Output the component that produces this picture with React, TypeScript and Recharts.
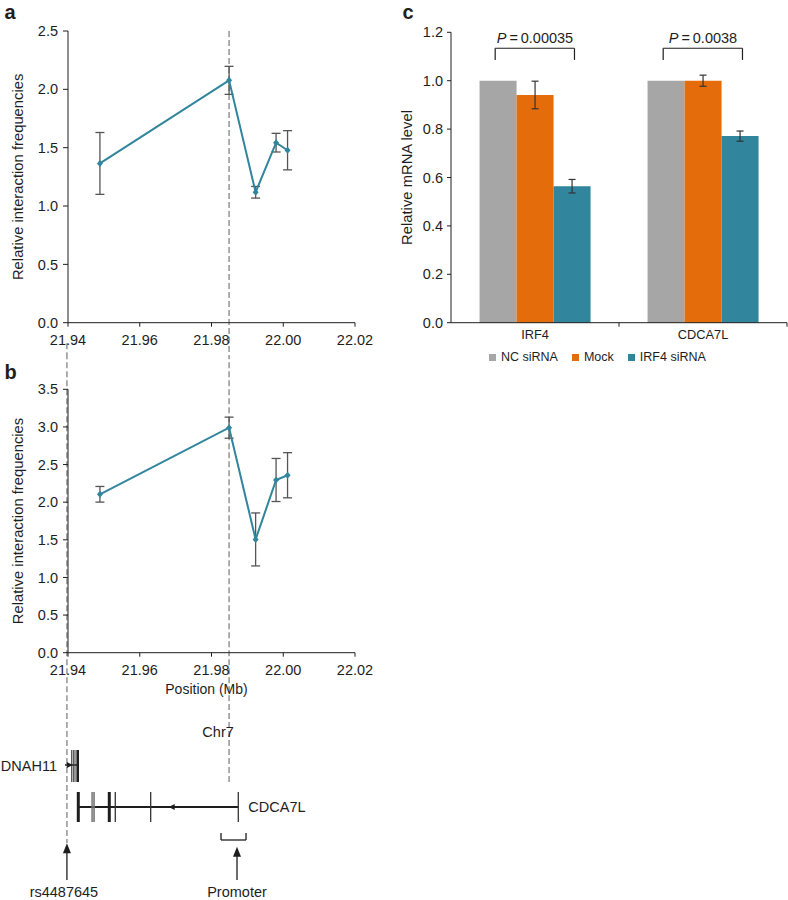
import React from "react";
import {
  LineChart,
  Line,
  XAxis,
  YAxis,
  ErrorBar,
  ReferenceLine,
  ReferenceDot,
  BarChart,
  Bar,
  Legend,
  ScatterChart,
  Scatter,
} from "recharts";

// panels a / b : 3C interaction frequencies
const fragmentMb = [21.9489, 21.9849, 21.9923, 21.998, 22.0012];
const freqA = [1.365, 2.077, 1.118, 1.543, 1.478];
const errA = [0.265, 0.12, 0.05, 0.08, 0.168];
const freqB = [2.105, 2.99, 1.505, 2.295, 2.358];
const errB = [0.104, 0.14, 0.352, 0.286, 0.3];
const positionTicks = [21.94, 21.96, 21.98, 22.0, 22.02];
const ticksA = [0, 0.5, 1, 1.5, 2, 2.5];
const ticksB = [0, 0.5, 1, 1.5, 2, 2.5, 3, 3.5];

const anchorMb = 21.9849;
const snpMb = 21.9397; // rs4487645

// gene models (Mb)
const dnah11Span = [21.93916, 21.9427];
const dnah11Exons = [21.94103, 21.94148, 21.94195];
const dnah11LastExon = [21.9427];
const dnah11ArrowMb = 21.9405;
const cdca7lSpan = [21.94287, 21.98747];
const cdca7lThickExons = [21.94287, 21.95151];
const cdca7lThinExons = [21.95318, 21.96305, 21.98747];
const cdca7lSmallExons = [21.94661, 21.9468, 21.947, 21.94719, 21.94739];
const cdca7lArrowMb = 21.96891;
const promoterSpan = [21.98265, 21.98962];
const promoterMb = 21.98711;

// panel c : qPCR
const genes = ["IRF4", "CDCA7L"];
const seriesNames = ["NC siRNA", "Mock", "IRF4 siRNA"];
const ncSiRNA = [1.0, 1.0];
const mock = [0.941, 1.0];
const mockErr = [0.057, 0.023];
const irf4SiRNA = [0.564, 0.771];
const irf4SiRNAErr = [0.028, 0.021];
const pValues = ["0.00035", "0.0038"];
const mrnaTicks = [0, 0.2, 0.4, 0.6, 0.8, 1.0, 1.2];
const bracketTop = 1.134;
const bracketFoot = 1.086;
const pLabelY = 1.175;

const TEAL = "#31859c";
const GREY = "#a6a6a6";
const ORANGE = "#e46c0a";
const DASH = "#8c8c8c";
const INK = "#1e1e1e";

const Diamond = (props: any) => {
  const { cx, cy } = props;
  if (cx == null || cy == null) return null;
  return (
    <path
      d={`M${cx},${cy - 3.5}L${cx + 3},${cy}L${cx},${cy + 3.5}L${cx - 3},${cy}Z`}
      fill={TEAL}
    />
  );
};

const seg = (x1: number, y1: number, x2: number, y2: number) => [
  { x: x1, y: y1 },
  { x: x2, y: y2 },
];

type PanelProps = {
  values: number[];
  errors: number[];
  yTicks: number[];
  top: number;
  height: number;
  marginTop: number;
  marginBottom: number;
  xAxisHeight: number;
  xLabel?: string;
  anchorDash: [number, number];
  snpDash: [number, number];
};

function InteractionPanel(p: PanelProps) {
  const data = fragmentMb.map((pos, i) => ({
    pos,
    freq: p.values[i],
    err: p.errors[i],
  }));
  const yMax = p.yTicks[p.yTicks.length - 1];
  return (
    <div style={{ position: "absolute", left: 0, top: p.top }}>
      <LineChart
        width={380}
        height={p.height}
        data={data}
        margin={{ top: p.marginTop, right: 25, bottom: p.marginBottom, left: 0 }}
      >
        <XAxis
          type="number"
          dataKey="pos"
          domain={[21.94, 22.02]}
          ticks={positionTicks}
          tickFormatter={(v: number) => v.toFixed(2)}
          height={p.xAxisHeight}
          stroke={INK}
          tick={{ fontSize: 14.5, fill: INK }}
          tickSize={4}
          tickMargin={8}
          label={
            p.xLabel
              ? {
                  value: p.xLabel,
                  position: "insideBottom",
                  offset: 4,
                  dx: -5,
                  fontSize: 14,
                  fill: INK,
                }
              : undefined
          }
        />
        <YAxis
          type="number"
          domain={[0, yMax]}
          ticks={p.yTicks}
          tickFormatter={(v: number) => v.toFixed(1)}
          width={68}
          stroke={INK}
          tick={{ fontSize: 14.5, fill: INK }}
          tickSize={5}
          tickMargin={5}
          label={{
            value: "Relative interaction frequencies",
            angle: -90,
            position: "center",
            dx: -16.5,
            fontSize: 14.8,
            fill: INK,
          }}
        />
        <ReferenceLine
          segment={seg(anchorMb, p.anchorDash[0], anchorMb, p.anchorDash[1])}
          stroke={DASH}
          strokeWidth={1.4}
          strokeDasharray="6 3"
          ifOverflow="visible"
        />
        <ReferenceLine
          segment={seg(snpMb, p.snpDash[0], snpMb, p.snpDash[1])}
          stroke={DASH}
          strokeWidth={1.4}
          strokeDasharray="6 3"
          ifOverflow="visible"
        />
        <Line
          type="linear"
          dataKey="freq"
          stroke={TEAL}
          strokeWidth={2}
          dot={<Diamond />}
          activeDot={false}
          isAnimationActive={false}
        >
          <ErrorBar dataKey="err" width={4.5} stroke="#555" strokeWidth={1.3} direction="y" />
        </Line>
      </LineChart>
    </div>
  );
}

const DNAH11_ROW = 66;
const CDCA7L_ROW = 107;

const exonShape = (half: number, w: number, color: string) => (props: any) => (
  <line
    x1={props.cx}
    x2={props.cx}
    y1={props.cy - half}
    y2={props.cy + half}
    stroke={color}
    strokeWidth={w}
  />
);

const textShape =
  (label: string, anchor: "start" | "middle" | "end", dx: number) => (props: any) => (
    <text
      x={props.cx + dx}
      y={props.cy}
      dy="0.35em"
      textAnchor={anchor}
      fontSize={14.5}
      fill={INK}
    >
      {label}
    </text>
  );

const arrowHead = (dir: 1 | -1) => (props: any) => {
  const { cx, cy } = props;
  return (
    <path
      d={`M${cx - 3 * dir},${cy} L${cx + 3 * dir},${cy - 3} L${cx + 3 * dir},${cy + 3} Z`}
      fill={INK}
    />
  );
};

const upArrow = (len: number) => (props: any) => {
  const { cx, cy } = props;
  return (
    <g>
      <line x1={cx} x2={cx} y1={cy + 8} y2={cy + len} stroke={INK} strokeWidth={1.3} />
      <path d={`M${cx},${cy} L${cx + 4},${cy + 10} L${cx - 4},${cy + 10} Z`} fill={INK} />
    </g>
  );
};

function GeneTrack() {
  const pts = (arr: number[], row: number) => arr.map((pos) => ({ pos, row }));
  return (
    <div style={{ position: "absolute", left: 0, top: 700 }}>
      <ScatterChart width={380} height={200} margin={{ top: 0, right: 25, bottom: 0, left: 68 }}>
        <XAxis type="number" dataKey="pos" domain={[21.94, 22.02]} hide />
        <YAxis type="number" dataKey="row" domain={[0, 200]} reversed hide />
        <ReferenceLine
          segment={seg(anchorMb, -5, anchorMb, 85)}
          stroke={DASH}
          strokeWidth={1.4}
          strokeDasharray="6 3"
          ifOverflow="visible"
        />
        <ReferenceLine
          segment={seg(snpMb, -5, snpMb, 143)}
          stroke={DASH}
          strokeWidth={1.4}
          strokeDasharray="6 3"
          ifOverflow="visible"
        />
        <ReferenceLine
          segment={seg(dnah11Span[0], DNAH11_ROW - 1, dnah11Span[1], DNAH11_ROW - 1)}
          stroke={INK}
          strokeWidth={1.5}
          ifOverflow="visible"
        />
        <ReferenceLine
          segment={seg(cdca7lSpan[0], CDCA7L_ROW, cdca7lSpan[1], CDCA7L_ROW)}
          stroke={INK}
          strokeWidth={1.8}
          ifOverflow="visible"
        />
        <Scatter data={pts(dnah11Exons, DNAH11_ROW)} dataKey="row" shape={exonShape(16, 1, "#333")} isAnimationActive={false} />
        <Scatter data={pts(dnah11LastExon, DNAH11_ROW)} dataKey="row" shape={exonShape(16, 2.6, INK)} isAnimationActive={false} />
        <Scatter data={pts(cdca7lThickExons, CDCA7L_ROW)} dataKey="row" shape={exonShape(15, 3, INK)} isAnimationActive={false} />
        <Scatter data={pts(cdca7lThinExons, CDCA7L_ROW)} dataKey="row" shape={exonShape(15, 1.3, "#333")} isAnimationActive={false} />
        <Scatter data={pts(cdca7lSmallExons, CDCA7L_ROW)} dataKey="row" shape={exonShape(15, 0.8, "#777")} isAnimationActive={false} />
        <ReferenceDot x={dnah11ArrowMb} y={DNAH11_ROW - 1} ifOverflow="visible" shape={arrowHead(-1)} />
        <ReferenceDot x={cdca7lArrowMb} y={CDCA7L_ROW} ifOverflow="visible" shape={arrowHead(1)} />
        <ReferenceLine segment={seg(promoterSpan[0], 133, promoterSpan[0], 140)} stroke={INK} strokeWidth={1.3} ifOverflow="visible" />
        <ReferenceLine segment={seg(promoterSpan[0], 140, promoterSpan[1], 140)} stroke={INK} strokeWidth={1.3} ifOverflow="visible" />
        <ReferenceLine segment={seg(promoterSpan[1], 140, promoterSpan[1], 133)} stroke={INK} strokeWidth={1.3} ifOverflow="visible" />
        <ReferenceDot x={snpMb} y={143.3} ifOverflow="visible" shape={upArrow(36.7)} />
        <ReferenceDot x={promoterMb} y={146.7} ifOverflow="visible" shape={upArrow(33.3)} />
        <ReferenceDot x={dnah11Span[0]} y={DNAH11_ROW} ifOverflow="visible" shape={textShape("DNAH11", "end", -8)} />
        <ReferenceDot x={cdca7lSpan[1]} y={CDCA7L_ROW} ifOverflow="visible" shape={textShape("CDCA7L", "start", 10)} />
        <ReferenceDot x={anchorMb} y={32} ifOverflow="visible" shape={textShape("Chr7", "middle", -11)} />
        <ReferenceDot x={snpMb} y={191.7} ifOverflow="visible" shape={textShape("rs4487645", "middle", -3)} />
        <ReferenceDot x={promoterMb} y={191.7} ifOverflow="visible" shape={textShape("Promoter", "middle", 0)} />
      </ScatterChart>
    </div>
  );
}

const GeneTick = (props: any) => {
  const { x, y, payload } = props;
  const half = payload?.offset || 84;
  return (
    <g>
      <line x1={x + half} x2={x + half} y1={y - 7} y2={y - 3} stroke={INK} />
      <text x={x} y={y} dy="0.71em" textAnchor="middle" fontSize={12.8} fill={INK}>
        {payload.value}
      </text>
    </g>
  );
};

const LegendRow = (props: any) => {
  const items = [...(props.payload || [])].sort(
    (a: any, b: any) => seriesNames.indexOf(a.value) - seriesNames.indexOf(b.value)
  );
  return (
    <div
      style={{
        height: 20,
        display: "flex",
        alignItems: "center",
        paddingLeft: 109,
        fontSize: 12.5,
        color: INK,
      }}
    >
      {items.map((e: any) => (
        <span key={e.value} style={{ display: "flex", alignItems: "center", marginRight: 14 }}>
          <span
            style={{ width: 7, height: 7, background: e.color, marginRight: 5, marginTop: 1 }}
          />
          {e.value}
        </span>
      ))}
    </div>
  );
};

const pLabel = (p: string) => (props: any) => (
  <text x={props.cx} y={props.cy} dy="0.35em" textAnchor="middle" fontSize={14.5} fill={INK}>
    <tspan fontStyle="italic">P</tspan>
    {"\u2009=\u2009" + p}
  </text>
);

function ExpressionPanel() {
  const data = genes.map((gene, i) => ({
    gene,
    slot: i + 0.5,
    nc: ncSiRNA[i],
    mock: mock[i],
    mockErr: mockErr[i],
    sirna: irf4SiRNA[i],
    sirnaErr: irf4SiRNAErr[i],
  }));
  return (
    <div style={{ position: "absolute", left: 380, top: 0 }}>
      <BarChart
        width={408}
        height={372}
        data={data}
        margin={{ top: 32.3, right: 1, bottom: 5.3, left: 0 }}
        barCategoryGap="17%"
        barGap={0}
      >
        <XAxis
          dataKey="gene"
          height={24}
          stroke={INK}
          tickLine={false}
          tickSize={0}
          tickMargin={7}
          tick={<GeneTick />}
        />
        <XAxis xAxisId="slot" type="number" dataKey="slot" domain={[0, 2]} hide />
        <YAxis
          domain={[0, 1.2]}
          ticks={mrnaTicks}
          tickFormatter={(v: number) => v.toFixed(1)}
          width={71}
          stroke={INK}
          tick={{ fontSize: 14.5, fill: INK }}
          tickSize={4}
          tickMargin={4}
          label={{
            value: "Relative mRNA level",
            angle: -90,
            position: "center",
            dx: -8.5,
            fontSize: 14.8,
            fill: INK,
          }}
        />
        <Bar dataKey="nc" name={seriesNames[0]} fill={GREY} isAnimationActive={false} />
        <Bar dataKey="mock" name={seriesNames[1]} fill={ORANGE} isAnimationActive={false}>
          <ErrorBar dataKey="mockErr" width={3.5} stroke="#333" strokeWidth={1.2} direction="y" />
        </Bar>
        <Bar dataKey="sirna" name={seriesNames[2]} fill={TEAL} isAnimationActive={false}>
          <ErrorBar dataKey="sirnaErr" width={3.5} stroke="#333" strokeWidth={1.2} direction="y" />
        </Bar>
        {genes.map((g, i) => {
          const c = i + 0.5;
          return (
            <React.Fragment key={g}>
              <ReferenceLine xAxisId="slot" segment={seg(c - 0.237, bracketFoot, c - 0.237, bracketTop)} stroke={INK} strokeWidth={1.2} ifOverflow="visible" />
              <ReferenceLine xAxisId="slot" segment={seg(c - 0.237, bracketTop, c + 0.235, bracketTop)} stroke={INK} strokeWidth={1.2} ifOverflow="visible" />
              <ReferenceLine xAxisId="slot" segment={seg(c + 0.235, bracketTop, c + 0.235, bracketFoot)} stroke={INK} strokeWidth={1.2} ifOverflow="visible" />
              <ReferenceDot xAxisId="slot" x={c} y={pLabelY} ifOverflow="visible" shape={pLabel(pValues[i])} />
            </React.Fragment>
          );
        })}
        <Legend verticalAlign="bottom" content={<LegendRow />} />
      </BarChart>
    </div>
  );
}

const letterStyle: React.CSSProperties = {
  position: "absolute",
  fontSize: 20,
  fontWeight: "bold",
  lineHeight: "20px",
};

export default function App() {
  return (
    <div
      style={{
        position: "absolute",
        left: 0,
        top: 0,
        width: 788,
        height: 900,
        background: "#fff",
        overflow: "hidden",
        fontFamily: '"Liberation Sans", Arial, sans-serif',
        color: INK,
      }}
    >
      <InteractionPanel
        values={freqA}
        errors={errA}
        yTicks={ticksA}
        top={0}
        height={355}
        marginTop={31}
        marginBottom={7.3}
        xAxisHeight={25}
        anchorDash={[2.5, -0.4]}
        snpDash={[-0.177, -0.4]}
      />
      <InteractionPanel
        values={freqB}
        errors={errB}
        yTicks={ticksB}
        top={355}
        height={345}
        marginTop={34.3}
        marginBottom={2.3}
        xAxisHeight={45}
        xLabel="Position (Mb)"
        anchorDash={[4.1, -0.7]}
        snpDash={[4.1, -0.7]}
      />
      <GeneTrack />
      <ExpressionPanel />
      <div style={{ ...letterStyle, left: 4.5, top: 2 }}>a</div>
      <div style={{ ...letterStyle, left: 4.5, top: 362 }}>b</div>
      <div style={{ ...letterStyle, left: 402.5, top: 2 }}>c</div>
    </div>
  );
}
